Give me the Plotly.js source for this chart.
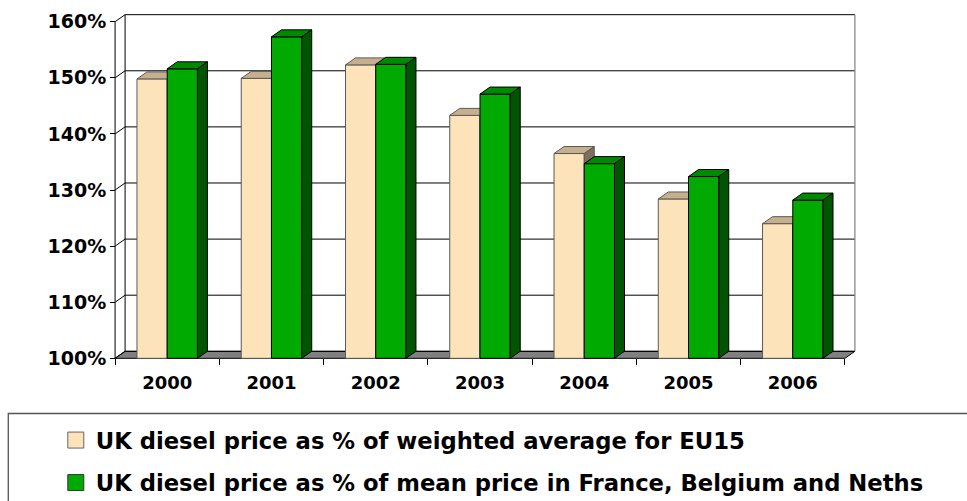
<!DOCTYPE html>
<html>
<head>
<meta charset="utf-8">
<script src="https://cdn.plot.ly/plotly-3.0.1.min.js"></script>
<style>html,body{margin:0;padding:0;background:#fff;}#chart{width:967px;height:501px;}</style>
</head>
<body>
<div id="chart"></div>
<script>
// ---- data ----
const years = ['2000', '2001', '2002', '2003', '2004', '2005', '2006'];
const eu15Pct = [149.8, 149.9, 152.3, 143.3, 136.5, 128.4, 124.0];
const fbnPct = [151.6, 157.3, 152.4, 147.1, 134.7, 132.4, 128.2];
const yTickVals = [100, 110, 120, 130, 140, 150, 160];
const yTickText = ['100%', '110%', '120%', '130%', '140%', '150%', '160%'];
const seriesNames = [
  'UK diesel price as % of weighted average for EU15',
  'UK diesel price as % of mean price in France, Belgium and Neths'
];

// ---- styling / geometry ----
const Y0 = 100, YMAX = 160;
const BAR_W = 0.29;      // bar width in category units
const DX = 0.096;        // depth offset (x units)
const DY = 1.25;         // depth offset (y units)
const PADX = 0.02, PADY = 0.3;
const N = years.length;
const xs = years.map((_, i) => i);
const XR = [-0.5 - PADX, N - 0.5 + DX + PADX];
const YR = [Y0 - PADY, YMAX + DY + PADY];

const W = 967, H = 501;
const M = {l: 113.2, r: 109.9, t: 13.3, b: 140.8, autoexpand: false};
const plotW = W - M.l - M.r, plotH = H - M.t - M.b;
const pxToPaperX = px => (px - M.l) / plotW;
const pxToPaperY = py => (H - M.b - py) / plotH;

const beige = {front: '#FDE3BA', top: '#C6AF8D', side: '#7E705C', edge: '#5a5a5a'};
const green = {front: '#00AA00', top: '#008A00', side: '#005500', edge: '#000000'};

function topFaces(vals, x0off) {
  const X = [], Y = [];
  vals.forEach((v, i) => {
    const a = i + x0off, b = a + BAR_W;
    X.push(a, b, b + DX, a + DX, a, null);
    Y.push(v, v, v + DY, v + DY, v, null);
  });
  return {X, Y};
}
function sideFaces(vals, x0off) {
  const X = [], Y = [];
  vals.forEach((v, i) => {
    const b = i + x0off + BAR_W;
    X.push(b, b, b + DX, b + DX, b, null);
    Y.push(Y0, v, v + DY, Y0 + DY, Y0, null);
  });
  return {X, Y};
}
function poly(P, fill, edge, xa, ya) {
  return {type: 'scatter', mode: 'lines', x: P.X, y: P.Y, fill: 'toself', fillcolor: fill,
    line: {color: edge, width: 1}, hoverinfo: 'skip', showlegend: false, xaxis: xa, yaxis: ya};
}

// frame: floor, walls, gridlines
const floorX = [-0.5, N - 0.5, N - 0.5 + DX, -0.5 + DX, -0.5];
const floorY = [Y0, Y0, Y0 + DY, Y0 + DY, Y0];
const gridX = [], gridY = [];
yTickVals.forEach(v => {
  gridX.push(-0.5, -0.5 + DX, N - 0.5 + DX, null);
  gridY.push(v, v + DY, v + DY, null);
});
const wallX = [-0.5, -0.5, null, -0.5 + DX, -0.5 + DX];
const wallY = [Y0, YMAX, null, Y0 + DY, YMAX + DY];
const rightX = [N - 0.5 + DX, N - 0.5 + DX];
const rightY = [Y0 + DY, YMAX + DY];

const traces = [
  {type: 'scatter', mode: 'lines', x: floorX, y: floorY, fill: 'toself', fillcolor: '#808080',
    line: {color: '#000', width: 1}, hoverinfo: 'skip', showlegend: false},
  {type: 'scatter', mode: 'lines', x: gridX, y: gridY, line: {color: '#000', width: 1},
    hoverinfo: 'skip', showlegend: false},
  {type: 'scatter', mode: 'lines', x: wallX, y: wallY, line: {color: '#000', width: 1},
    hoverinfo: 'skip', showlegend: false},
  {type: 'scatter', mode: 'lines', x: rightX, y: rightY, line: {color: '#808080', width: 1.2},
    hoverinfo: 'skip', showlegend: false},
  // series 1 (beige) on overlay 2
  {type: 'bar', x: xs, y: eu15Pct.map(v => v - Y0), base: Y0, offset: -BAR_W, width: BAR_W,
    marker: {color: beige.front, line: {color: beige.edge, width: 1}}, showlegend: false,
    hoverinfo: 'skip', xaxis: 'x2', yaxis: 'y2'},
  poly(topFaces(eu15Pct, -BAR_W), beige.top, beige.edge, 'x2', 'y2'),
  poly(sideFaces(eu15Pct, -BAR_W), beige.side, beige.edge, 'x2', 'y2'),
  // series 2 (green) on overlay 3
  {type: 'bar', x: xs, y: fbnPct.map(v => v - Y0), base: Y0, offset: 0, width: BAR_W,
    marker: {color: green.front, line: {color: green.edge, width: 1}}, showlegend: false,
    hoverinfo: 'skip', xaxis: 'x3', yaxis: 'y3'},
  poly(topFaces(fbnPct, 0), green.top, green.edge, 'x3', 'y3'),
  poly(sideFaces(fbnPct, 0), green.side, green.edge, 'x3', 'y3'),
  // legend entries
  {type: 'scatter', mode: 'markers', x: [null], y: [null], name: seriesNames[0], legendgroup: 'a',
    marker: {symbol: 'square', size: 16, color: beige.front, line: {color: '#666', width: 1}}},
  {type: 'scatter', mode: 'markers', x: [null], y: [null], name: seriesNames[1], legendgroup: 'b',
    marker: {symbol: 'square', size: 16, color: green.front, line: {color: '#333', width: 1}}}
];

const FAM = 'DejaVu Sans, Verdana, sans-serif';
const hiddenAx = (ov, anchor, range) => ({overlaying: ov, anchor: anchor, range: range, visible: false, fixedrange: true});

const layout = {
  width: W, height: H,
  margin: M,
  paper_bgcolor: '#fff', plot_bgcolor: 'rgba(0,0,0,0)',
  font: {family: FAM, color: '#000', size: 17, weight: 'bold'},
  showlegend: true,
  xaxis: {
    type: 'linear', range: XR, showgrid: false, zeroline: false, showline: false,
    anchor: 'free', position: pxToPaperY(358.5),
    tickmode: 'array', tickvals: xs, ticktext: years, ticks: '',
    ticklabelstandoff: 12,
    minor: {tickmode: 'array', tickvals: years.concat(['x']).map((_, i) => i - 0.5), ticks: 'outside', ticklen: 6, tickcolor: '#000', tickwidth: 1, showgrid: false},
    tickfont: {family: FAM, size: 18, weight: 'bold', color: '#000'},
    fixedrange: true
  },
  yaxis: {
    type: 'linear', range: YR, showgrid: false, zeroline: false, showline: false,
    anchor: 'free', position: pxToPaperX(115.3),
    tickmode: 'array', tickvals: yTickVals, ticktext: yTickText,
    ticks: 'outside', ticklen: 5, tickcolor: '#000', tickwidth: 1,
    tickfont: {family: FAM, size: 19, weight: 'bold', color: '#000'},
    fixedrange: true
  },
  xaxis2: hiddenAx('x', 'y2', XR), yaxis2: hiddenAx('y', 'x2', YR),
  xaxis3: hiddenAx('x', 'y3', XR), yaxis3: hiddenAx('y', 'x3', YR),
  legend: {
    x: pxToPaperX(56), y: pxToPaperY(419), xanchor: 'left', yanchor: 'top',
    bgcolor: 'rgba(0,0,0,0)', borderwidth: 0,
    traceorder: 'grouped', tracegroupgap: 10,
    font: {family: FAM, size: 22.7, weight: 'bold', color: '#000'}
  },
  shapes: [{
    type: 'rect', xref: 'paper', yref: 'paper',
    x0: pxToPaperX(8.5), x1: pxToPaperX(1000), y0: pxToPaperY(413.7), y1: pxToPaperY(540),
    line: {color: '#555', width: 1.3}, fillcolor: 'rgba(0,0,0,0)'
  }]
};

Plotly.newPlot('chart', traces, layout, {staticPlot: true, displayModeBar: false});
</script>
</body>
</html>
